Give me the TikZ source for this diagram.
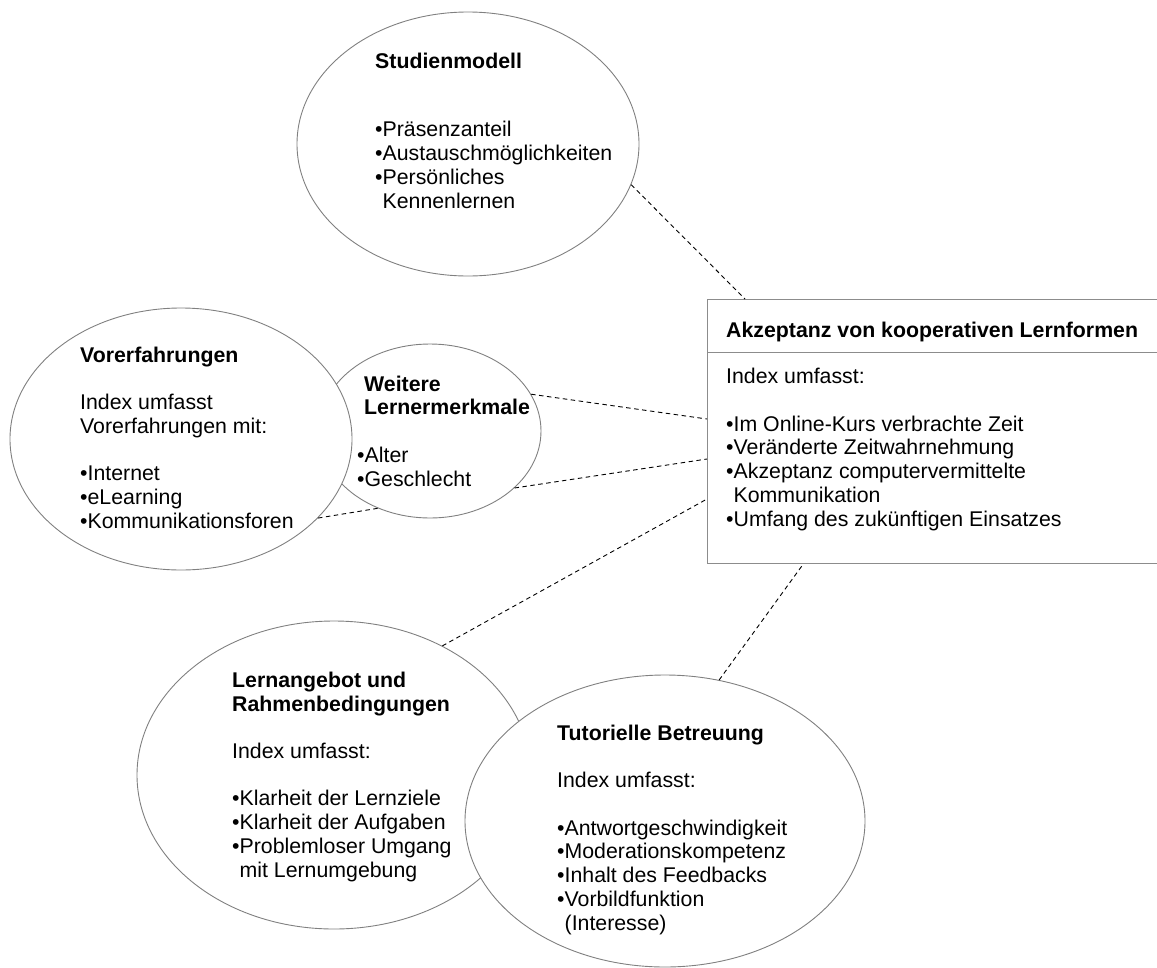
\documentclass[tikz,border=0pt]{standalone}
\usepackage{fontspec}
\setmainfont{Liberation Sans}
\usetikzlibrary{shapes.geometric}

\begin{document}
\begin{tikzpicture}[x=1pt,y=-1pt,
  bubble/.style={ellipse, draw=black!50, line width=0.9pt, fill=white, inner sep=0pt},
  panel/.style={rectangle, draw=black!45, line width=1.4pt, fill=white, inner sep=0pt,
                anchor=north west, minimum width=455pt},
  % texts are placed by the baseline of their last line
  txt/.style={anchor=base west, align=left, inner sep=0pt,
              font=\fontsize{21.3}{23.7}\selectfont},
  dashlink/.style={draw=black, line width=0.9pt, dash pattern=on 4.5pt off 3.5pt}]

\useasboundingbox (0,0) rectangle (1157,967);

% outlines (later ones cover earlier ones where they overlap)
\node[bubble, minimum width=342pt, minimum height=264pt] (stud)   at (468,144) {};
\node[bubble, minimum width=222pt, minimum height=174pt] (weit)   at (430,431) {};
\node[bubble, minimum width=342pt, minimum height=262pt] (vorerf) at (181,439) {};
\node[bubble, minimum width=394pt, minimum height=308pt] (lern)   at (334,775) {};
\node[bubble, minimum width=400pt, minimum height=292pt] (tut)    at (665,821) {};
\node[panel, minimum height=53pt]  (akzhead) at (707,299) {};
\node[panel, minimum height=211pt] (akzbody) at (707,352) {};

% texts
\node[txt] (studtext) at (375,208) {\textbf{Studienmodell}\\[44.3pt]
  •Präsenzanteil\\•Austauschmöglichkeiten\\•Persönliches\\\phantom{•}Kennenlernen};
\node[txt] (vorerftext) at (80,528) {\textbf{Vorerfahrungen}\\[23.7pt]
  Index umfasst\\Vorerfahrungen mit:\\[23.7pt]
  •Internet\\•eLearning\\•Kommunikationsforen};
\node[txt] (weittext) at (357,486) {\hspace*{7pt}\textbf{Weitere}\\
  \hspace*{7pt}\textbf{Lernermerkmale}\\[23.7pt]•Alter\\•Geschlecht};
\node[txt] (akzheadtext) at (726,337) {\textbf{Akzeptanz von kooperativen Lernformen}};
\node[txt] (akzbodytext) at (726,526) {Index umfasst:\\[23.7pt]
  •Im Online-Kurs verbrachte Zeit\\•Veränderte Zeitwahrnehmung\\
  •Akzeptanz computervermittelte\\\phantom{•}Kommunikation\\
  •Umfang des zukünftigen Einsatzes};
\node[txt] (lerntext) at (232,877) {\textbf{Lernangebot und}\\\textbf{Rahmenbedingungen}\\[23.7pt]
  Index umfasst:\\[23.7pt]
  •Klarheit der Lernziele\\•Klarheit der Aufgaben\\•Problemloser Umgang\\\phantom{•}mit Lernumgebung};
\node[txt] (tuttext) at (557,930) {\textbf{Tutorielle Betreuung}\\[23.7pt]
  Index umfasst:\\[23.7pt]
  •Antwortgeschwindigkeit\\•Moderationskompetenz\\•Inhalt des Feedbacks\\
  •Vorbildfunktion\\\phantom{•}(Interesse)};

% dashed relations
\draw[dashlink] (stud.-14)   -- ([xshift=38pt]akzhead.north west);
\draw[dashlink] (weit.20)    -- ([yshift=-67pt]akzbody.north west);
\draw[dashlink] (weit.-34)   -- ([yshift=-107pt]akzbody.north west);
\draw[dashlink] (vorerf.-30) -- (weit.236);
\draw[dashlink] (lern.50)    -- ([yshift=-147pt]akzbody.north west);
\draw[dashlink] (tut.69)     -- ([xshift=96pt]akzbody.south west);
\end{tikzpicture}
\end{document}
